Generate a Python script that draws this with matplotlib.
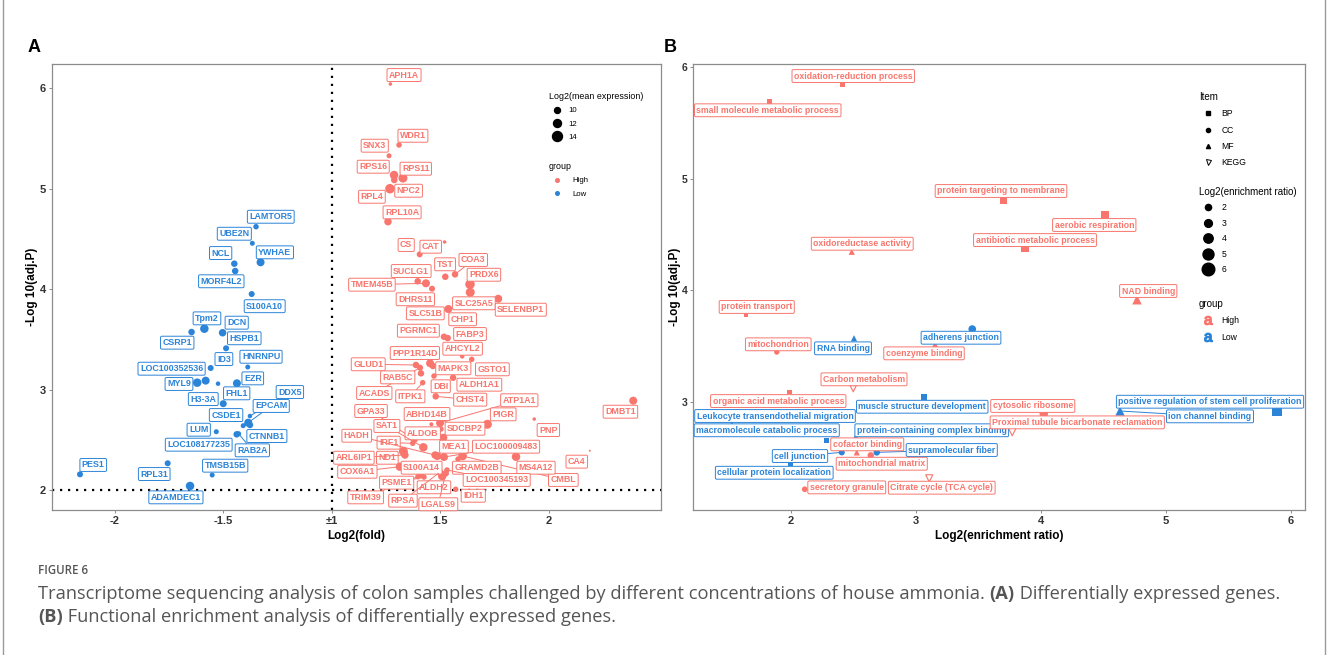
import numpy as np
import matplotlib.pyplot as plt
from matplotlib.lines import Line2D

plt.rcParams['font.family'] = ['Liberation Sans', 'DejaVu Sans']

RED = '#F8766D'
BLUE = '#2B84D8'

# ---------------- panel A: differentially expressed genes ----------------
up_genes = ['APH1A', 'WDR1', 'SNX3', 'RPS16', 'RPS11', 'NPC2', 'RPL4', 'RPL10A',
            'CAT', 'CS', 'TST', 'COA3', 'SUCLG1', 'TMEM45B', 'DHRS11', 'PRDX6',
            'SLC25A5', 'SELENBP1', 'SLC51B', 'CHP1', 'PGRMC1', 'FABP3', 'AHCYL2',
            'GSTO1', 'PPP1R14D', 'MAPK3', 'GLUD1', 'ACADS', 'RAB5C', 'DBI',
            'ALDH1A1', 'ITPK1', 'CHST4', 'DMBT1', 'ATP1A1', 'ABHD14B', 'SDCBP2',
            'PIGR', 'PNP', 'GPA33', 'ALDOB', 'IRF1', 'SAT1', 'ND1', 'HADH',
            'MEA1', 'LOC100009483', 'CMBL', 'GRAMD2B', 'MS4A12', 'CA4', 'ARL6IP1',
            'COX6A1', 'S100A14', 'TRIM39', 'PSME1', 'ALDH2', 'RPSA', 'LGALS9',
            'LOC100345193', 'IDH1']
up_fc = [1.269, 1.309, 1.263, 1.286, 1.327, 1.287, 1.267, 1.258,
         1.519, 1.404, 1.522, 1.567, 1.395, 1.433, 1.461, 1.636,
         1.637, 1.766, 1.442, 1.536, 1.516, 1.533, 1.600,
         1.644, 1.452, 1.465, 1.387, 1.406, 1.410, 1.470,
         1.558, 1.418, 1.478, 2.388, 1.498, 1.458, 1.502,
         1.716, 1.932, 1.382, 1.513, 1.372, 1.421, 1.329, 1.475,
         1.485, 1.516, 1.602, 1.581, 1.848, 2.188, 1.336,
         1.313, 1.409, 1.396, 1.424, 1.508, 1.498, 1.524,
         1.530, 1.570]
up_logp = [6.040, 5.433, 5.326, 5.134, 5.104, 5.085, 4.998, 4.670,
           4.468, 4.345, 4.122, 4.146, 4.077, 4.057, 4.003, 4.047,
           3.967, 3.903, 3.891, 3.801, 3.525, 3.512, 3.330,
           3.300, 3.261, 3.234, 3.244, 3.217, 3.161, 3.134,
           3.117, 3.068, 2.932, 2.889, 2.667, 2.654, 2.607,
           2.654, 2.706, 2.498, 2.520, 2.465, 2.425, 2.385, 2.348,
           2.338, 2.328, 2.338, 2.308, 2.331, 2.391, 2.348,
           2.232, 2.149, 2.132, 2.129, 2.139, 2.179, 2.166,
           2.199, 2.007]
up_expr = [7.5, 9.5, 9.0, 12.5, 13.0, 10.5, 13.5, 11.5,
           7.5, 10.0, 10.5, 10.5, 10.5, 12.0, 10.0, 13.5,
           13.0, 12.0, 8.5, 12.0, 10.5, 10.5, 8.5,
           9.5, 12.0, 10.5, 10.5, 10.0, 10.5, 9.5,
           10.5, 9.5, 10.5, 12.0, 12.0, 8.0, 9.5,
           13.0, 7.5, 9.5, 12.0, 9.5, 12.5, 13.0, 11.5,
           12.0, 12.0, 12.5, 9.5, 12.5, 6.0, 11.5,
           12.5, 10.5, 9.5, 9.5, 12.5, 10.5, 10.5,
           9.5, 9.5]
up_lab_x = [1.332, 1.373, 1.197, 1.190, 1.386, 1.353, 1.184, 1.323,
            1.455, 1.342, 1.521, 1.651, 1.365, 1.184, 1.384, 1.700,
            1.654, 1.870, 1.430, 1.602, 1.398, 1.636, 1.602,
            1.739, 1.382, 1.559, 1.167, 1.195, 1.303, 1.501,
            1.679, 1.361, 1.637, 2.329, 1.863, 1.438, 1.613,
            1.789, 1.997, 1.180, 1.418, 1.261, 1.253, 1.255, 1.114,
            1.562, 1.802, 2.066, 1.667, 1.940, 2.128, 1.101,
            1.117, 1.413, 1.155, 1.298, 1.470, 1.327, 1.490,
            1.759, 1.651]
up_lab_y = [6.129, 5.525, 5.426, 5.217, 5.197, 4.978, 4.918, 4.763,
            4.421, 4.438, 4.246, 4.289, 4.179, 4.043, 3.898, 4.142,
            3.858, 3.794, 3.758, 3.699, 3.585, 3.552, 3.406,
            3.201, 3.363, 3.211, 3.251, 2.965, 3.121, 3.032,
            3.048, 2.932, 2.899, 2.779, 2.893, 2.756, 2.610,
            2.753, 2.597, 2.786, 2.564, 2.471, 2.637, 2.321, 2.540,
            2.431, 2.431, 2.100, 2.222, 2.222, 2.282, 2.321,
            2.182, 2.222, 1.927, 2.073, 2.027, 1.894, 1.858,
            2.100, 1.943]

down_genes = ['LAMTOR5', 'UBE2N', 'YWHAE', 'NCL', 'MORF4L2', 'S100A10', 'Tpm2',
              'CSRP1', 'DCN', 'HSPB1', 'ID3', 'HNRNPU', 'LOC100352536', 'MYL9',
              'FHL1', 'EZR', 'H3-3A', 'DDX5', 'EPCAM', 'CTNNB1', 'CSDE1', 'LUM',
              'LOC108177235', 'RAB2A', 'PES1', 'RPL31', 'TMSB15B', 'ADAMDEC1']
down_fc = [-1.350, -1.367, -1.329, -1.450, -1.446, -1.370, -1.588,
           -1.647, -1.504, -1.488, -1.559, -1.388, -1.582, -1.621,
           -1.525, -1.438, -1.501, -1.378, -1.386, -1.378, -1.409, -1.533,
           -1.439, -1.430, -2.161, -1.757, -1.552, -1.654]
down_logp = [4.620, 4.455, 4.266, 4.252, 4.179, 3.950, 3.605,
             3.572, 3.565, 3.410, 3.214, 3.224, 3.088, 3.068,
             3.058, 3.062, 2.859, 2.736, 2.670, 2.647, 2.640, 2.580,
             2.554, 2.560, 2.156, 2.266, 2.149, 2.040]
down_expr = [9.5, 9.0, 12.0, 10.5, 10.5, 10.0, 12.5,
             10.5, 11.5, 10.0, 10.0, 9.0, 12.0, 12.5,
             8.5, 12.0, 11.0, 8.5, 12.0, 10.5, 9.0, 9.0,
             10.5, 9.0, 10.0, 10.0, 9.0, 12.5]
down_lab_x = [-1.282, -1.450, -1.263, -1.513, -1.510, -1.310, -1.576,
              -1.713, -1.439, -1.404, -1.498, -1.327, -1.739, -1.705,
              -1.439, -1.365, -1.593, -1.194, -1.280, -1.300, -1.488, -1.614,
              -1.614, -1.367, -2.100, -1.819, -1.492, -1.719]
down_lab_y = [4.719, 4.550, 4.365, 4.358, 4.077, 3.829, 3.708,
              3.466, 3.665, 3.510, 3.303, 3.326, 3.207, 3.055,
              2.962, 3.111, 2.905, 2.975, 2.836, 2.537, 2.746, 2.600,
              2.451, 2.395, 2.249, 2.159, 2.242, 1.927]

fc_ticks = [-2, -1.5, 1, 1.5, 2]
fc_tick_labels = ['-2', '-1.5', '\u00b11', '1.5', '2']
expr_legend = [10, 12, 14]

# ---------------- panel B: functional enrichment ----------------
terms = ['oxidation-reduction process', 'small molecule metabolic process',
         'protein targeting to membrane', 'antibiotic metabolic process',
         'aerobic respiration', 'protein transport', 'organic acid metabolic process',
         'muscle structure development', 'macromolecule catabolic process',
         'cellular protein localization', 'positive regulation of stem cell proliferation',
         'cytosolic ribosome', 'adherens junction', 'mitochondrion', 'cell junction',
         'supramolecular fiber', 'mitochondrial matrix', 'secretory granule',
         'oxidoreductase activity', 'NAD binding', 'ion channel binding',
         'coenzyme binding', 'RNA binding', 'protein-containing complex binding',
         'cofactor binding', 'Proximal tubule bicarbonate reclamation',
         'Carbon metabolism', 'Leukocyte transendothelial migration',
         'Citrate cycle (TCA cycle)']
term_item = ['BP'] * 11 + ['CC'] * 7 + ['MF'] * 7 + ['KEGG'] * 4
term_group = ['High', 'High', 'High', 'High', 'High', 'High', 'High',
              'Low', 'Low', 'Low', 'Low',
              'High', 'Low', 'High', 'Low', 'Low', 'High', 'High',
              'High', 'High', 'Low', 'High', 'Low', 'Low', 'High',
              'High', 'High', 'Low', 'High']
enrich_ratio = [2.410, 1.826, 3.698, 3.872, 4.512, 1.640, 1.986,
                3.062, 2.282, 1.998, 5.888,
                4.022, 3.450, 1.886, 2.406, 2.686, 2.638, 2.110,
                2.486, 4.768, 4.632, 3.152, 2.504, 2.518, 2.526,
                3.770, 2.498, 1.526, 3.106]
term_logp = [5.845, 5.692, 4.804, 4.377, 4.670, 3.778, 3.085,
             3.040, 2.648, 2.442, 2.915,
             2.888, 3.650, 3.444, 2.544, 2.544, 2.517, 2.213,
             4.343, 3.913, 2.915, 3.507, 3.567, 2.684, 2.544,
             2.729, 3.115, 2.819, 2.311]
term_lab_x = [2.498, 1.814, 3.680, 3.952, 4.426, 1.726, 1.898,
              3.050, 1.806, 1.866, 5.352,
              3.934, 3.360, 1.898, 2.072, 3.286, 2.726, 2.446,
              2.570, 4.858, 5.352, 3.064, 2.416, 3.126, 2.610,
              4.290, 2.584, 1.872, 3.206]
term_lab_y = [5.919, 5.612, 4.888, 4.448, 4.583, 3.848, 3.004,
              2.953, 2.742, 2.361, 2.998,
              2.960, 3.572, 3.513, 2.511, 2.565, 2.442, 2.230,
              4.415, 3.991, 2.867, 3.432, 3.477, 2.742, 2.616,
              2.813, 3.199, 2.870, 2.227]
ratio_legend = [2, 3, 4, 5, 6]
item_order = ['BP', 'CC', 'MF', 'KEGG']
item_marker = {'BP': 's', 'CC': 'o', 'MF': '^', 'KEGG': 'v'}

gcol = {'High': RED, 'Low': BLUE}


def expr_size(e):
    d = (np.asarray(e, dtype=float) - 4.0) * 0.72
    return d ** 2


def ratio_size(r):
    d = (1.6 * np.asarray(r, dtype=float) + 3.0) * 0.72
    return d ** 2


def fwd(x):
    x = np.asarray(x, dtype=float)
    return np.where(x < 0, x + 1, x - 1)


def inv(t):
    t = np.asarray(t, dtype=float)
    return np.where(t < 0, t - 1, t + 1)


fig = plt.figure(figsize=(13.28, 6.55), dpi=100)
axA = fig.add_axes([52 / 1328, 145 / 655, 609 / 1328, 446 / 655])
axB = fig.add_axes([693 / 1328, 145 / 655, 612 / 1328, 446 / 655])

labels = []


def label(ax, txt, pt, lab, col, fs):
    a = ax.annotate(txt, xy=pt, xytext=lab, textcoords='data', ha='center', va='center',
                    fontsize=fs, weight='bold', color=col, zorder=5,
                    bbox=dict(boxstyle='round,pad=0.22,rounding_size=0.15', fc='white',
                              ec=col, lw=0.7, alpha=1),
                    arrowprops=dict(arrowstyle='-', color=col, lw=0.7, shrinkA=0, shrinkB=1.5))
    a.get_bbox_patch().set_edgecolor((*plt.matplotlib.colors.to_rgb(col), 0.55))
    labels.append((ax, a, pt))


# ---- panel A ----
axA.set_xscale('function', functions=(fwd, inv))
axA.scatter(down_fc, down_logp, s=expr_size(down_expr), color=BLUE, lw=0, zorder=3)
axA.scatter(up_fc, up_logp, s=expr_size(up_expr), color=RED, lw=0, zorder=3)
axA.axvline(1, color='black', ls=(0, (1, 2.6)), lw=1.6, zorder=2)
axA.axhline(2, color='black', ls=(0, (1, 2.6)), lw=1.6, zorder=2)
axA.set_xlim(-2.29, 2.516)
axA.set_ylim(1.801, 6.239)
axA.set_xticks(fc_ticks)
axA.set_xticklabels(fc_tick_labels)
axA.set_yticks([2, 3, 4, 5, 6])
axA.minorticks_off()
for g, x, y, lx, ly in zip(down_genes, down_fc, down_logp, down_lab_x, down_lab_y):
    label(axA, g, (x, y), (lx, ly), BLUE, 6.4)
for g, x, y, lx, ly in zip(up_genes, up_fc, up_logp, up_lab_x, up_lab_y):
    label(axA, g, (x, y), (lx, ly), RED, 6.4)
axA.set_xlabel('Log2(fold)', weight='bold', fontsize=8.5)
axA.set_ylabel('-Log 10(adj.P)', weight='bold', fontsize=8.5)
axA.xaxis.set_label_coords(0.5, -0.045)
axA.yaxis.set_label_coords(-0.023, 0.5)

# ---- panel B ----
for it in item_order:
    idx = [i for i, v in enumerate(term_item) if v == it]
    xs = [enrich_ratio[i] for i in idx]
    ys = [term_logp[i] for i in idx]
    cs = [gcol[term_group[i]] for i in idx]
    ss = ratio_size(xs)
    if it == 'BP':
        axB.scatter(xs, ys, s=ss * 0.6, marker='s', color=cs, lw=0, zorder=3)
    elif it == 'CC':
        axB.scatter(xs, ys, s=ss * 0.8, marker='o', color=cs, lw=0, zorder=3)
    elif it == 'MF':
        axB.scatter(xs, ys, s=ss * 0.8, marker='^', color=cs, lw=0, zorder=3)
    else:
        axB.scatter(xs, ys, s=ss * 0.8, marker='v', facecolors='none', edgecolors=cs,
                    lw=0.8, zorder=3)
axB.set_xlim(1.216, 6.112)
axB.set_ylim(2.027, 6.027)
axB.set_xticks([2, 3, 4, 5, 6])
axB.set_yticks([3, 4, 5, 6])
for t, x, y, lx, ly, g in zip(terms, enrich_ratio, term_logp, term_lab_x, term_lab_y, term_group):
    label(axB, t, (x, y), (lx, ly), gcol[g], 6.3)
axB.set_xlabel('Log2(enrichment ratio)', weight='bold', fontsize=8.5)
axB.set_ylabel('-Log 10(adj.P)', weight='bold', fontsize=8.5)
axB.xaxis.set_label_coords(0.5, -0.045)
axB.yaxis.set_label_coords(-0.019, 0.5)

for ax in (axA, axB):
    for sp in ax.spines.values():
        sp.set_color('#8c8c8c')
        sp.set_linewidth(0.9)
    ax.tick_params(length=2.5, width=0.7, color='#8c8c8c', labelsize=8,
                   labelcolor='#333333', pad=2)
    for tl in ax.get_xticklabels() + ax.get_yticklabels():
        tl.set_weight('bold')
axB.tick_params(axis='y', pad=1.5, labelsize=7.5)

# ---- legends ----
lk = dict(frameon=False, alignment='left', borderpad=0, borderaxespad=0,
          loc='upper left', title_fontsize=6.4, fontsize=5.6)
hA1 = [Line2D([], [], ls='', marker='o', color='black',
              ms=np.sqrt(expr_size(v))) for v in expr_legend]
legA1 = fig.legend(hA1, [str(v) for v in expr_legend], title='Log2(mean expression)',
                   bbox_to_anchor=(549 / 1328, 1 - 92 / 655), handlelength=2.0,
                   handletextpad=0.5, labelspacing=0.75, **lk)
hA2 = [Line2D([], [], ls='', marker='o', color=c, ms=2.6) for c in (RED, BLUE)]
legA2 = fig.legend(hA2, ['High', 'Low'], title='group',
                   bbox_to_anchor=(549 / 1328, 1 - 162 / 655), handlelength=2.0,
                   handletextpad=1.0, labelspacing=0.75, **lk)

lkB = dict(lk, title_fontsize=7, fontsize=6.2)
hB1 = []
for it in item_order:
    if it == 'KEGG':
        hB1.append(Line2D([], [], ls='', marker='v', mfc='none', mec='black', mew=0.7, ms=3.6))
    else:
        hB1.append(Line2D([], [], ls='', marker=item_marker[it], color='black', ms=3.0))
legB1 = fig.legend(hB1, item_order, title='Item', bbox_to_anchor=(1199 / 1328, 1 - 92 / 655),
                   handlelength=2.0, handletextpad=0.6, labelspacing=0.85, **lkB)
hB2 = [Line2D([], [], ls='', marker='o', color='black', ms=np.sqrt(ratio_size(v)))
       for v in ratio_legend]
legB2 = fig.legend(hB2, [str(v) for v in ratio_legend], title='Log2(enrichment ratio)',
                   bbox_to_anchor=(1199 / 1328, 1 - 187 / 655), handlelength=2.0,
                   handletextpad=0.6, labelspacing=0.75, **lkB)
hB3 = [Line2D([], [], ls='', marker=r'$\mathregular{a}$', color=c, ms=6.0) for c in (RED, BLUE)]
legB3 = fig.legend(hB3, ['High', 'Low'], title='group', bbox_to_anchor=(1199 / 1328, 1 - 299 / 655),
                   handlelength=2.0, handletextpad=0.6, labelspacing=0.85, **lkB)

# ---- panel letters, page borders, caption ----
fig.text(28 / 1328, 1 - 47 / 655, 'A', fontsize=13, weight='bold', va='center')
fig.text(664 / 1328, 1 - 47 / 655, 'B', fontsize=13, weight='bold', va='center')
for xb in (3.5, 1325):
    fig.add_artist(Line2D([xb / 1328, xb / 1328], [0, 1], color='#9a9a9a', lw=1.0))

cap_font = ['Open Sans', 'DejaVu Sans']
fig.text(38 / 1328, 1 - 571 / 655, 'FIGURE 6', fontsize=8.3, color='#555555',
         family=cap_font, weight='semibold', va='center')

renderer = fig.canvas.get_renderer()


def rich_line(parts, x0, y0, fs):
    x = x0
    for txt, w in parts:
        t = fig.text(x, y0, txt, fontsize=fs, weight=w, color='#555555',
                     family=cap_font, va='center')
        bb = t.get_window_extent(renderer=renderer)
        x += bb.width / fig.bbox.width


rich_line([('Transcriptome sequencing analysis of colon samples challenged by different '
            'concentrations of house ammonia.\u00a0', 'normal'), ('(A)', 'bold'),
           ('\u00a0Differentially expressed genes.', 'normal')], 38 / 1328, 1 - 594 / 655, 13.15)
rich_line([('(B)', 'bold'), ('\u00a0Functional enrichment analysis of differentially expressed genes.',
                             'normal')], 38 / 1328, 1 - 617 / 655, 13.15)

# hide label segments that are too short (ggrepel style)
fig.canvas.draw()
for ax, a, pt in labels:
    bb = a.get_bbox_patch().get_window_extent(renderer=renderer)
    px, py = ax.transData.transform(pt)
    dx = max(bb.x0 - px, 0, px - bb.x1)
    dy = max(bb.y0 - py, 0, py - bb.y1)
    if np.hypot(dx, dy) < 7:
        a.arrow_patch.set_visible(False)

fig.savefig('out.png', dpi=100)
